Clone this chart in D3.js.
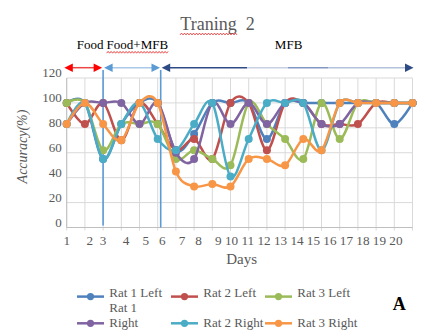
<!DOCTYPE html>
<html>
<head>
<meta charset="utf-8">
<script src="https://cdn.jsdelivr.net/npm/d3@7"></script>
<style>
  body { margin: 0; background: #fff; }
  svg { display: block; font-family: "Liberation Serif", "Times New Roman", serif; }
</style>
</head>
<body>
<svg id="chart" width="427" height="336"></svg>
<script>
// ---- data ----
const days = d3.range(1, 21);
const seriesNames = ["Rat 1 Left", "Rat 2 Left", "Rat 3 Left", "Rat 1 Right", "Rat 2 Right", "Rat 3 Right"];
const rat1Left  = [100, 100, 55, 83, 100, 100, 62, 75, 100, 100, 100, 71, 100, 100, 100, 100, 100, 100, 83, 100];
const rat2Left  = [100, 83, 100, 70, 100, 83, 62, 71, 55, 100, 100, 62, 100, 100, 83, 83, 83, 100, 100, 100];
const rat3Left  = [100, 100, 62, 83, 83, 83, 55, 62, 55, 50, 100, 83, 71, 55, 100, 71, 100, 100, 100, 100];
const rat1Right = [83, 100, 100, 100, 83, 100, 60, 55, 100, 83, 100, 83, 100, 100, 83, 83, 100, 100, 100, 100];
const rat2Right = [83, 100, 55, 83, 100, 71, 62, 83, 100, 41, 71, 100, 100, 100, 62, 100, 100, 100, 100, 100];
const rat3Right = [83, 100, 83, 70, 100, 100, 45, 33, 35, 33, 55, 55, 50, 71, 62, 100, 100, 100, 100, 100];
const yTicks = [0, 20, 40, 60, 80, 100, 120];
// the day numbers are typed as one row of text under the axis
const dayLabelRow = "1     2  3     4    5   6    7   8    9 10 11 12 13 14 15 16 17 18 19 20";
const phaseNames = ["Food", "Food+MFB", "MFB"];
const phaseStart = [1, 3, 6];
const phaseEnd = [3, 6, 20];
const titleText = "Traning  2";
const xTitle = "Days";
const yTitle = "Accuracy(%)";
const panelLetter = "A";

const palette = ["#4F81BD", "#C0504D", "#9BBB59", "#8064A2", "#4BACC6", "#F79646"];
const allValues = [rat1Left, rat2Left, rat3Left, rat1Right, rat2Right, rat3Right];
const series = seriesNames.map((name, i) => ({ name, color: palette[i], values: allValues[i] }));

// ---- layout ----
const svg = d3.select("#chart");
const plot = { left: 66.7, right: 412.5, top: 78, bottom: 227.5 };
const x = d3.scaleLinear().domain([1, 20]).range([plot.left, plot.right]);
const y = d3.scaleLinear().domain([0, 120]).range([plot.bottom, plot.top]);
const textGrey = "#595959";

// title with a spell-check squiggle under the misspelt word
svg.append("text")
  .attr("x", 217.5).attr("y", 30)
  .attr("text-anchor", "middle")
  .attr("font-size", 18).attr("fill", textGrey)
  .style("white-space", "pre")
  .text(titleText);

function squiggle(x0, x1, yy) {
  const pts = [];
  for (let xx = x0, k = 0; xx <= x1; xx += 1.5, k++) pts.push([xx, yy + (k % 2 ? -0.9 : 0.9)]);
  svg.append("path")
    .attr("d", d3.line()(pts))
    .attr("fill", "none").attr("stroke", "#e02020").attr("stroke-width", 0.8);
}
squiggle(180, 237, 34);

// gridlines
const grid = svg.append("g").attr("stroke", "#d9d9d9").attr("stroke-width", 1);
grid.selectAll("line.h").data(yTicks).join("line")
  .attr("x1", plot.left).attr("x2", plot.right)
  .attr("y1", d => y(d)).attr("y2", d => y(d));
grid.selectAll("line.v").data(days).join("line")
  .attr("x1", d => x(d)).attr("x2", d => x(d))
  .attr("y1", plot.top).attr("y2", plot.bottom + 3);

// axis lines
svg.append("line").attr("x1", plot.left).attr("x2", plot.left)
  .attr("y1", plot.top).attr("y2", plot.bottom).attr("stroke", "#bfbfbf");
svg.append("line").attr("x1", plot.left).attr("x2", plot.right)
  .attr("y1", plot.bottom).attr("y2", plot.bottom).attr("stroke", "#bfbfbf");

// y axis labels
const yAxis = svg.append("g")
  .attr("transform", `translate(${plot.left},0)`)
  .call(d3.axisLeft(y).tickValues(yTicks).tickSize(0).tickPadding(5));
yAxis.select(".domain").remove();
yAxis.selectAll("text")
  .attr("dy", -1.5)
  .attr("font-size", 13).attr("fill", textGrey)
  .attr("font-family", "Liberation Serif, Times New Roman, serif");

svg.append("text")
  .attr("transform", `translate(26.5,146.5) rotate(-90)`)
  .attr("text-anchor", "middle")
  .attr("font-size", 14).attr("font-style", "italic").attr("fill", textGrey)
  .text(yTitle);

// day labels row and x title
svg.append("text")
  .attr("x", x(1) - 3.3).attr("y", 244.5)
  .attr("font-size", 13.2).attr("fill", textGrey)
  .style("white-space", "pre")
  .text(dayLabelRow);

svg.append("text")
  .attr("x", (plot.left + plot.right) / 2 + 2).attr("y", 263.5)
  .attr("text-anchor", "middle")
  .attr("font-size", 15).attr("fill", textGrey)
  .text(xTitle);

// training phases: arrows over the plot and boundary lines
const arrowY = 67.7;
// the MFB phase boundary is drawn a little right of the day-6 gridline
const boundaryX = d => d === 6 ? x(d) + 3 : x(d);
const phaseArrows = [
  { x0: x(phaseStart[0]) - 2.4, x1: boundaryX(phaseEnd[0]) - 1, line: "#ee4444", head: "#ff0000" },
  { x0: boundaryX(phaseStart[1]) + 1, x1: boundaryX(phaseEnd[1]) - 0.7, line: "#a9c8ea", head: "#5b9bd5" },
  { x0: boundaryX(phaseStart[2]) + 1, x1: x(phaseEnd[2]) + 1, line: "url(#mfbLine)", head: "#2f4b85" }
];

const defs = svg.append("defs");
const grad = defs.append("linearGradient").attr("id", "mfbLine")
  .attr("gradientUnits", "userSpaceOnUse")
  .attr("x1", phaseArrows[2].x0).attr("x2", phaseArrows[2].x1).attr("y1", 0).attr("y2", 0);
[[0, "#2f4b85"], [0.34, "#2f4b85"], [0.34, "#c5d0e3"], [0.5, "#c5d0e3"],
 [0.5, "#8196c2"], [0.66, "#8196c2"], [0.66, "#b4c1da"], [1, "#b4c1da"]]
  .forEach(([o, c]) => grad.append("stop").attr("offset", o).attr("stop-color", c));

function head(tip, dir, color) {
  const len = 8.5, half = 4.3;
  svg.append("path")
    .attr("d", `M${tip},${arrowY} L${tip - dir * len},${arrowY - half} L${tip - dir * len},${arrowY + half} Z`)
    .attr("fill", color);
}
phaseArrows.forEach(a => {
  svg.append("line")
    .attr("x1", a.x0 + 6).attr("x2", a.x1 - 6)
    .attr("y1", arrowY).attr("y2", arrowY)
    .attr("stroke", a.line).attr("stroke-width", 1.5);
  head(a.x0, -1, a.head);
  head(a.x1, 1, a.head);
});

[phaseEnd[0], phaseEnd[1]].forEach((d, i) => {
  svg.append("line")
    .attr("x1", boundaryX(d)).attr("x2", boundaryX(d))
    .attr("y1", 70).attr("y2", i === 0 ? plot.bottom - 2 : plot.bottom)
    .attr("stroke", "#5b9bd5").attr("stroke-width", 1.6);
});

// phase captions
svg.append("text").attr("x", x(phaseStart[0]) + 10).attr("y", 49.3)
  .attr("font-size", 13).attr("fill", "#000").text(phaseNames[0]);
svg.append("text").attr("x", x(phaseStart[1]) + 3.5).attr("y", 49.3)
  .attr("font-size", 13).attr("fill", "#000").text(phaseNames[1]);
svg.append("text").attr("x", (boundaryX(phaseStart[2]) + x(phaseEnd[2])) / 2 + 2).attr("y", 49.3)
  .attr("text-anchor", "middle").attr("font-size", 13).attr("fill", "#000").text(phaseNames[2]);
squiggle(x(phaseStart[1]) + 3.5, x(phaseStart[1]) + 66, 52.3);

// series
const line = d3.line()
  .x((d, i) => x(days[i]))
  .y(d => y(d))
  .curve(d3.curveCardinal.tension(0));

const seriesG = svg.append("g");
series.forEach(s => {
  const g = seriesG.append("g");
  g.append("path")
    .attr("d", line(s.values))
    .attr("fill", "none").attr("stroke", s.color).attr("stroke-width", 2.5)
    .attr("stroke-linejoin", "round");
  g.selectAll("circle").data(s.values).join("circle")
    .attr("cx", (d, i) => x(days[i]))
    .attr("cy", d => y(d))
    .attr("r", 4)
    .attr("fill", s.color);
});

// legend: three columns, two rows
const legendCols = [77, 171, 265];
const legendRows = [296.6, 323.3];
const legendBaseline = [297.0, 326.7];
const wrapWidth = [55, 100, 100];
series.forEach((s, i) => {
  const col = i % 3, row = Math.floor(i / 3);
  const lx = legendCols[col], ly = legendRows[row];
  const g = svg.append("g");
  g.append("line").attr("x1", lx).attr("x2", lx + 27).attr("y1", ly).attr("y2", ly)
    .attr("stroke", s.color).attr("stroke-width", 2.5);
  g.append("circle").attr("cx", lx + 13.5).attr("cy", ly).attr("r", 3.6).attr("fill", s.color);
  const t = g.append("text").attr("x", lx + 32.3).attr("y", legendBaseline[row])
    .attr("font-size", 13).attr("fill", textGrey).text(s.name);
  if (t.node().getComputedTextLength() > wrapWidth[col]) {
    const words = s.name.split(" ");
    const last = words.pop();
    t.text(null);
    t.append("tspan").attr("x", lx + 32.3).attr("y", legendBaseline[row] - 14.6).text(words.join(" "));
    t.append("tspan").attr("x", lx + 32.3).attr("y", legendBaseline[row]).text(last);
  }
});

svg.append("text").attr("x", 392.7).attr("y", 310)
  .attr("font-size", 18).attr("font-weight", "bold").attr("fill", "#000")
  .text(panelLetter);
</script>
</body>
</html>
